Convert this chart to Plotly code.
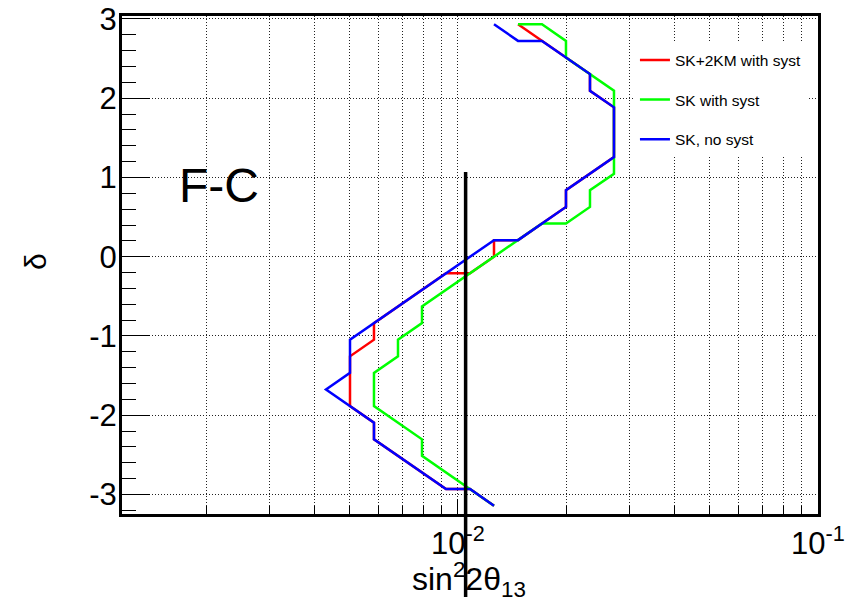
import plotly.graph_objects as go

# Boundary vertices of each allowed region: sin^2(2θ13) and δ (rad)
sk2km_syst_x = [0.01468, 0.02326, 0.02326, 0.02712, 0.02712, 0.01995, 0.01995, 0.01468,
                0.01259, 0.01259, 0.01080, 0.009261, 0.005843, 0.005843, 0.005012, 0.005012,
                0.005843, 0.005843, 0.009261, 0.01080, 0.01259]
sk2km_syst_d = [2.932, 2.304, 2.094, 1.885, 1.257, 0.838, 0.628, 0.209,
                0.209, 0.0, -0.209, -0.209, -0.838, -1.047, -1.257, -1.885,
                -2.094, -2.304, -2.932, -2.932, -3.142]

sk_syst_x = [0.01468, 0.01711, 0.01995, 0.01995, 0.02712, 0.02712, 0.02326, 0.02326,
             0.01995, 0.01711, 0.007943, 0.007943, 0.006813, 0.006813, 0.005843, 0.005843,
             0.007943, 0.007943, 0.01259]
sk_syst_d = [2.932, 2.932, 2.723, 2.513, 2.094, 1.047, 0.838, 0.628,
             0.419, 0.419, -0.628, -0.838, -1.047, -1.257, -1.466, -1.885,
             -2.304, -2.513, -3.142]

sk_nosyst_x = [0.01259, 0.01468, 0.01711, 0.02326, 0.02326, 0.02712, 0.02712, 0.01995,
               0.01995, 0.01468, 0.01259, 0.005012, 0.005012, 0.004299, 0.005843, 0.005843,
               0.009261, 0.01080, 0.01259]
sk_nosyst_d = [2.932, 2.723, 2.723, 2.304, 2.094, 1.885, 1.257, 0.838,
               0.628, 0.209, 0.209, -1.047, -1.466, -1.676, -2.094, -2.304,
               -2.932, -2.932, -3.142]

series_names = ["SK+2KM with syst", "SK with syst", "SK, no syst"]
series_colors = ["#ff0000", "#00ff00", "#0000ff"]

# Axis extents (x in log10 units) and ticks
x_range_log = [-2.9333, -1.0]
y_range = [-3.2463, 3.0369]
x_major_ticks = [0.01, 0.1]
x_major_labels = ["10<sup>-2</sup>", "10<sup>-1</sup>"]
x_minor_ticks = [0.002, 0.003, 0.004, 0.005, 0.006, 0.007, 0.008, 0.009,
                 0.02, 0.03, 0.04, 0.05, 0.06, 0.07, 0.08, 0.09]
y_ticks = [-3, -2, -1, 0, 1, 2, 3]
y_labels = ["-3", "-2", "-1", "0", "1", "2", "3"]

# Reference value of sin^2(2θ13) marked by the vertical bar, and its upper δ end
ref_x = 0.0105
ref_top_delta = 1.07

FONT = "Liberation Sans, Arial, Helvetica, sans-serif"
GRID_DASH = "1px,2px"
GRID_COLOR = "#222222"

fig = go.Figure()
series = [(sk2km_syst_x, sk2km_syst_d), (sk_syst_x, sk_syst_d), (sk_nosyst_x, sk_nosyst_d)]
for (xs, ds), name, color in zip(series, series_names, series_colors):
    fig.add_trace(go.Scatter(
        x=xs, y=ds, mode="lines", name=name, legendgroup=name,
        line=dict(color=color, width=2.5),
    ))

fig.update_xaxes(
    type="log", range=x_range_log, automargin=False,
    showline=True, linecolor="black", linewidth=3, mirror=True,
    tickmode="array", tickvals=x_major_ticks, ticktext=x_major_labels,
    ticks="inside", ticklen=15, tickwidth=1.3, tickcolor="black",
    tickfont=dict(family=FONT, size=31, color="black"),
    showgrid=True, griddash=GRID_DASH, gridcolor=GRID_COLOR, gridwidth=1,
    minor=dict(tickmode="array", tickvals=x_minor_ticks, ticks="inside", ticklen=8,
               tickwidth=1.3, tickcolor="black", showgrid=True, griddash=GRID_DASH,
               gridcolor=GRID_COLOR, gridwidth=1),
    zeroline=False,
)
fig.update_yaxes(
    range=y_range, automargin=False,
    showline=True, linecolor="black", linewidth=3, mirror=True,
    tickmode="array", tickvals=y_ticks, ticktext=y_labels,
    ticks="inside", ticklen=28, tickwidth=1.3, tickcolor="black",
    tickfont=dict(family=FONT, size=31, color="black"), ticklabelstandoff=-4,
    showgrid=True, griddash=GRID_DASH, gridcolor=GRID_COLOR, gridwidth=1,
    minor=dict(dtick=0.2, tick0=0, ticks="inside", ticklen=14, tickwidth=1.3,
               tickcolor="black", showgrid=False),
    zeroline=False,
)

# Vertical reference bar, running from δ = ref_top_delta down past the frame
ref_top_paper = (ref_top_delta - y_range[0]) / (y_range[1] - y_range[0])
fig.add_shape(type="line", xref="x", yref="paper", x0=ref_x, x1=ref_x,
              y0=-0.25, y1=ref_top_paper, line=dict(color="black", width=3.5),
              layer="above")

fig.add_annotation(text="F-C", xref="paper", yref="paper", x=0.1394, y=0.66,
                   xanchor="center", yanchor="middle", showarrow=False,
                   font=dict(family=FONT, size=48, color="black"))
fig.add_annotation(text="δ", xref="paper", yref="paper", x=-0.125, y=0.506,
                   xanchor="center", yanchor="middle", textangle=-90, showarrow=False,
                   font=dict(family=FONT, size=30, color="black"))
fig.add_annotation(text="sin<sup>2</sup>2θ<sub>13</sub>", xref="paper", yref="paper",
                   x=0.4986, y=-0.132, xanchor="center", yanchor="middle", showarrow=False,
                   font=dict(family=FONT, size=32, color="black"))

fig.update_layout(
    width=846, height=597,
    margin=dict(l=122, r=28, t=16, b=83),
    paper_bgcolor="white", plot_bgcolor="white",
    showlegend=True,
    legend=dict(x=0.737, y=0.945, xanchor="left", yanchor="top",
                bgcolor="white", borderwidth=0, itemwidth=30, tracegroupgap=16.5,
                font=dict(family=FONT, size=15.5, color="black")),
)

fig.write_html("out.html")
